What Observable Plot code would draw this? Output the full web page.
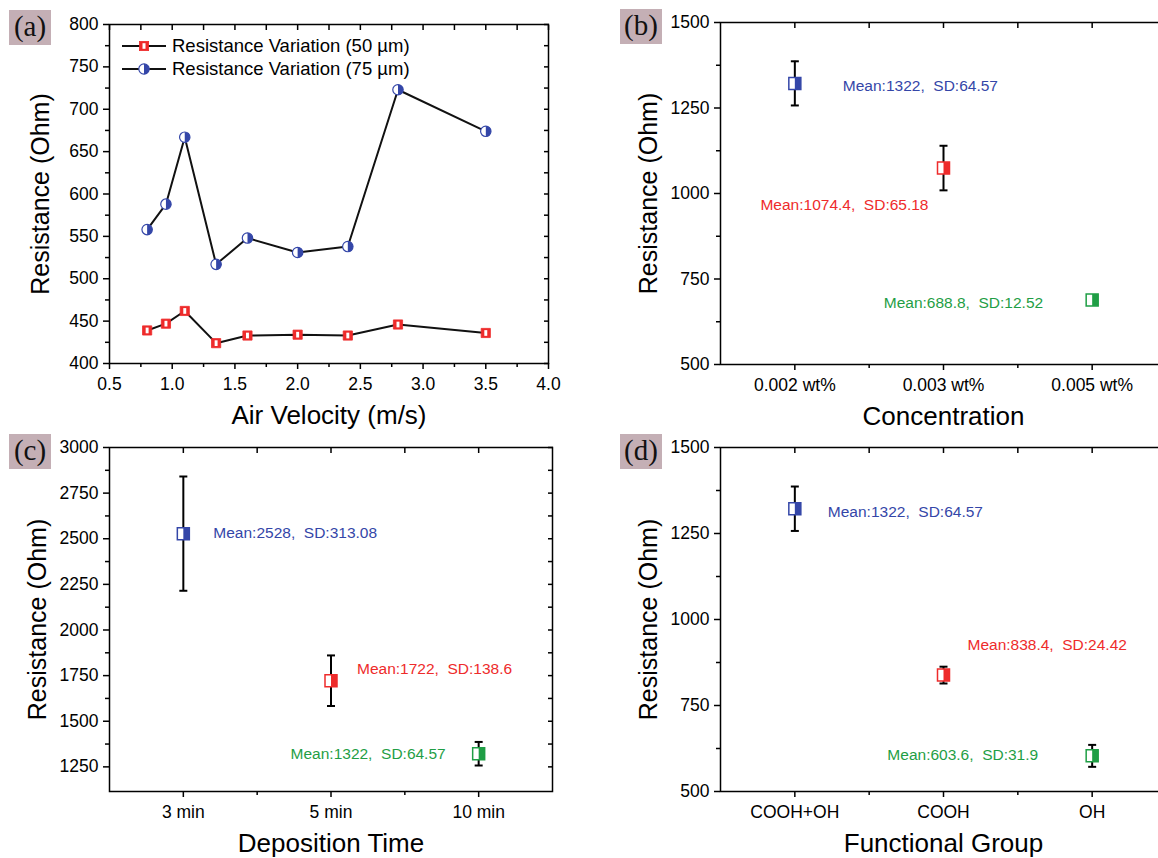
<!DOCTYPE html>
<html><head><meta charset="utf-8">
<script src="https://cdn.jsdelivr.net/npm/d3@7"></script>
<script src="https://cdn.jsdelivr.net/npm/@observablehq/plot@0.6"></script>
<style>
html,body{margin:0;padding:0;background:#fff;overflow:hidden;}
#fig{position:relative;width:1158px;height:858px;overflow:hidden;background:#fff;font-family:'Liberation Sans',Arial,Helvetica,sans-serif;}
.tag{position:absolute;background:#c4afb5;font-family:'Liberation Serif','Times New Roman',serif;font-size:29px;color:#111;width:42px;height:35px;line-height:33px;text-align:center;}
.legend{position:absolute;left:120px;top:34px;font-size:18.5px;color:#000;}
.legend .row{display:flex;align-items:center;height:23px;white-space:pre;}
.legend svg{margin-right:4px;}
</style></head><body><div id="fig"></div>
<script>
// ---------- data ----------
const airVelocity = [0.8, 0.95, 1.1, 1.35, 1.6, 2.0, 2.4, 2.8, 3.5];
const resistance50 = [439, 447, 462, 424, 433, 434, 433, 446, 436];
const resistance75 = [558, 588, 667, 517, 548, 531, 538, 723, 674];
const seriesNames = ["Resistance Variation (50 µm)", "Resistance Variation (75 µm)"];

const concentrations = ["0.002 wt%", "0.003 wt%", "0.005 wt%"];
const concMean = [1322, 1074.4, 688.8];
const concSD = [64.57, 65.18, 12.52];

const depositionTimes = ["3 min", "5 min", "10 min"];
const depMean = [2528, 1722, 1322];
const depSD = [313.08, 138.6, 64.57];

const functionalGroups = ["COOH+OH", "COOH", "OH"];
const fgMean = [1322, 838.4, 603.6];
const fgSD = [64.57, 24.42, 31.9];

// tick values
const velocityTicks = [0.5, 1.0, 1.5, 2.0, 2.5, 3.0, 3.5, 4.0];
const velocityMinor = [0.75, 1.25, 1.75, 2.25, 2.75, 3.25, 3.75];
const resTicksA = [400, 450, 500, 550, 600, 650, 700, 750, 800];
const resMinorA = [425, 475, 525, 575, 625, 675, 725, 775];
const resTicksBD = [500, 750, 1000, 1250, 1500];
const resMinorBD = [625, 875, 1125, 1375];
const resTicksC = [1250, 1500, 1750, 2000, 2250, 2500, 2750, 3000];
const resMinorC = [1375, 1625, 1875, 2125, 2375, 2625, 2875];
const catTicks = [1, 2, 3];
const catMinor = [1.5, 2.5];

// ---------- styles ----------
const FONT = "'Liberation Sans', Arial, Helvetica, sans-serif";
const BLUE = "#3446a8", RED = "#ee2b2b", GREEN = "#1f9e45";
const pointColors = [BLUE, RED, GREEN];

const fig = document.getElementById("fig");
function place(el, left, top) {
  el.style.position = "absolute";
  el.style.left = left + "px";
  el.style.top = top + "px";
  fig.appendChild(el);
}

// custom symbols (r = sqrt(size/PI))
const rOf = s => Math.sqrt(s / Math.PI);
const sqFull = {draw(c, s) { const r = rOf(s); c.rect(-r, -r, 2 * r, 2 * r); }};
const sqRight = {draw(c, s) { const r = rOf(s); c.rect(0, -r, r, 2 * r); }};
const slot = {draw(c, s) { const r = rOf(s); c.rect(-r * 0.32, -r * 0.62, r * 0.64, r * 1.24); }};
const capLine = {draw(c, s) { const r = rOf(s); c.moveTo(-r, 0); c.lineTo(r, 0); }};
const halfCircRight = {draw(c, s) { const r = rOf(s); c.moveTo(0, -r); c.arc(0, 0, r, -Math.PI / 2, Math.PI / 2); c.closePath(); }};

function axesMarks({xMajor, xMinor, xFormat, yMajor, yMinor, yFormat, xTitle, yTitle, titleDy, titleDx}) {
  return [
    Plot.frame({stroke: "#000", strokeWidth: 1.5}),
    Plot.axisX({ticks: xMajor, anchor: "bottom", tickSize: 6, tickPadding: 8, tickFormat: xFormat, fontSize: 17.5, label: null, strokeWidth: 1.5}),
    Plot.axisX({ticks: xMinor, anchor: "bottom", tickSize: 4, fill: "none", label: null, strokeWidth: 1.5}),
    Plot.axisX({ticks: [...xMajor, ...xMinor], anchor: "top", tickSize: -5, fill: "none", label: null, strokeWidth: 1.5}),
    Plot.axisY({ticks: yMajor, anchor: "left", tickSize: 6, tickPadding: 5, tickFormat: yFormat, fontSize: 17.5, label: null, strokeWidth: 1.5}),
    Plot.axisY({ticks: yMinor, anchor: "left", tickSize: 4, fill: "none", label: null, strokeWidth: 1.5}),
    Plot.axisY({ticks: [...yMajor, ...yMinor], anchor: "right", tickSize: -5, fill: "none", label: null, strokeWidth: 1.5}),
    Plot.text([xTitle], {frameAnchor: "bottom", dy: titleDy, text: d => d, fontSize: 26, textAnchor: "middle", lineAnchor: "middle", fill: "#000"}),
    Plot.text([yTitle], {frameAnchor: "left", dx: titleDx, rotate: -90, text: d => d, fontSize: 25, textAnchor: "middle", lineAnchor: "middle", fill: "#000"})
  ];
}

// ---------- panel (a) ----------
const rows50 = airVelocity.map((x, i) => ({x, y: resistance50[i]}));
const rows75 = airVelocity.map((x, i) => ({x, y: resistance75[i]}));

const plotA = Plot.plot({
  width: 580, height: 430, marginLeft: 109, marginRight: 32, marginTop: 24, marginBottom: 67,
  x: {domain: [0.5, 4.0]}, y: {domain: [400, 800]},
  style: {fontFamily: FONT, color: "#000", background: "transparent", overflow: "visible"},
  marks: [
    ...axesMarks({xMajor: velocityTicks, xMinor: velocityMinor, xFormat: d3.format(".1f"),
      yMajor: resTicksA, yMinor: resMinorA, yFormat: d => String(d),
      xTitle: "Air Velocity (m/s)", yTitle: "Resistance (Ohm)", titleDy: 52, titleDx: -69}),
    Plot.line(rows50, {x: "x", y: "y", stroke: "#111", strokeWidth: 2}),
    Plot.line(rows75, {x: "x", y: "y", stroke: "#111", strokeWidth: 2}),
    Plot.dot(rows50, {x: "x", y: "y", symbol: sqFull, r: 4.6, fill: RED, stroke: RED, strokeWidth: 0.8}),
    Plot.dot(rows50, {x: "x", y: "y", symbol: slot, r: 4.6, fill: "#fff", stroke: "none"}),
    Plot.dot(rows75, {x: "x", y: "y", r: 5.2, fill: "#fff", stroke: BLUE, strokeWidth: 1.2}),
    Plot.dot(rows75, {x: "x", y: "y", symbol: halfCircRight, r: 5.2, fill: BLUE, stroke: "none"})
  ]
});
place(plotA, 0, 0);

// legend for (a)
const legend = document.createElement("div");
legend.className = "legend";
const glyph50 = `<svg width="48" height="20"><line x1="2" y1="10" x2="46" y2="10" stroke="#111" stroke-width="2"/><rect x="19.4" y="5.4" width="9.2" height="9.2" fill="${RED}" stroke="${RED}" stroke-width="0.8"/><rect x="22.5" y="7.2" width="3" height="5.6" fill="#fff"/></svg>`;
const glyph75 = `<svg width="48" height="20"><line x1="2" y1="10" x2="46" y2="10" stroke="#111" stroke-width="2"/><circle cx="24" cy="10" r="5.2" fill="#fff" stroke="${BLUE}" stroke-width="1.2"/><path d="M24,4.8A5.2,5.2 0 0 1 24,15.2Z" fill="${BLUE}"/></svg>`;
legend.innerHTML = `<div class="row">${glyph50}<span>${seriesNames[0]}</span></div><div class="row">${glyph75}<span>${seriesNames[1]}</span></div>`;
fig.appendChild(legend);

// ---------- categorical panels ----------
function catPanel({cats, means, sds, yDomain, yMajor, yMinor, xTitle, labelOpts, width, height, margins}) {
  const rows = cats.map((c, i) => ({idx: i + 1, cat: c, mean: means[i], sd: sds[i], lo: means[i] - sds[i], hi: means[i] + sds[i]}));
  return Plot.plot({
    width, height, ...margins,
    x: {domain: [0.5, 3.5]}, y: {domain: yDomain},
    style: {fontFamily: FONT, color: "#000", background: "transparent", overflow: "visible", whiteSpace: "pre"},
    marks: [
      ...axesMarks({xMajor: catTicks, xMinor: catMinor, xFormat: d => cats[d - 1],
        yMajor, yMinor, yFormat: d => String(d),
        xTitle, yTitle: "Resistance (Ohm)", titleDy: 52, titleDx: -72}),
      Plot.ruleX(rows, {x: "idx", y1: "lo", y2: "hi", stroke: "#000", strokeWidth: 2}),
      Plot.dot(rows, {x: "idx", y: "hi", symbol: capLine, r: 4, stroke: "#000", strokeWidth: 2, fill: "none"}),
      Plot.dot(rows, {x: "idx", y: "lo", symbol: capLine, r: 4, stroke: "#000", strokeWidth: 2, fill: "none"}),
      Plot.dot(rows, {x: "idx", y: "mean", symbol: sqFull, r: 6, fill: "#fff", stroke: (d) => pointColors[d.idx - 1], strokeWidth: 1.5}),
      Plot.dot(rows, {x: "idx", y: "mean", symbol: sqRight, r: 6, fill: (d) => pointColors[d.idx - 1], stroke: "none"}),
      ...labelOpts.map((o, i) => Plot.text(rows.filter(r => r.idx === i + 1), {
        x: "idx", y: "mean", text: r => `Mean:${r.mean},  SD:${r.sd}`,
        fill: pointColors[i], fontSize: 15.5, lineAnchor: "middle", ...o
      }))
    ]
  });
}

const plotB = catPanel({
  cats: concentrations, means: concMean, sds: concSD, yDomain: [500, 1500],
  yMajor: resTicksBD, yMinor: resMinorBD, xTitle: "Concentration",
  labelOpts: [{dx: 48, dy: 3, textAnchor: "start"}, {dx: -15, dy: 37, textAnchor: "end"}, {dx: -49, dy: 3, textAnchor: "end"}],
  width: 590, height: 430, margins: {marginLeft: 140, marginRight: 4, marginTop: 22, marginBottom: 66}
});
place(plotB, 580, 0);

const plotC = catPanel({
  cats: depositionTimes, means: depMean, sds: depSD, yDomain: [1115, 3000],
  yMajor: resTicksC, yMinor: resMinorC, xTitle: "Deposition Time",
  labelOpts: [{dx: 30, dy: -1, textAnchor: "start"}, {dx: 26, dy: -12, textAnchor: "start"}, {dx: -33, dy: 0, textAnchor: "end"}],
  width: 580, height: 428, margins: {marginLeft: 109, marginRight: 28, marginTop: 17, marginBottom: 67}
});
place(plotC, 0, 430);

const plotD = catPanel({
  cats: functionalGroups, means: fgMean, sds: fgSD, yDomain: [500, 1500],
  yMajor: resTicksBD, yMinor: resMinorBD, xTitle: "Functional Group",
  labelOpts: [{dx: 33, dy: 3, textAnchor: "start"}, {dx: 24, dy: -30, textAnchor: "start"}, {dx: -54, dy: -1, textAnchor: "end"}],
  width: 590, height: 428, margins: {marginLeft: 140, marginRight: 4, marginTop: 17, marginBottom: 67}
});
place(plotD, 580, 430);

// panel tags
[["(a)", 9, 10], ["(b)", 620, 9], ["(c)", 9, 434], ["(d)", 620, 434]].forEach(([t, l, tp]) => {
  const d = document.createElement("div");
  d.className = "tag";
  d.textContent = t;
  d.style.left = l + "px";
  d.style.top = tp + "px";
  fig.appendChild(d);
});
</script></body></html>
